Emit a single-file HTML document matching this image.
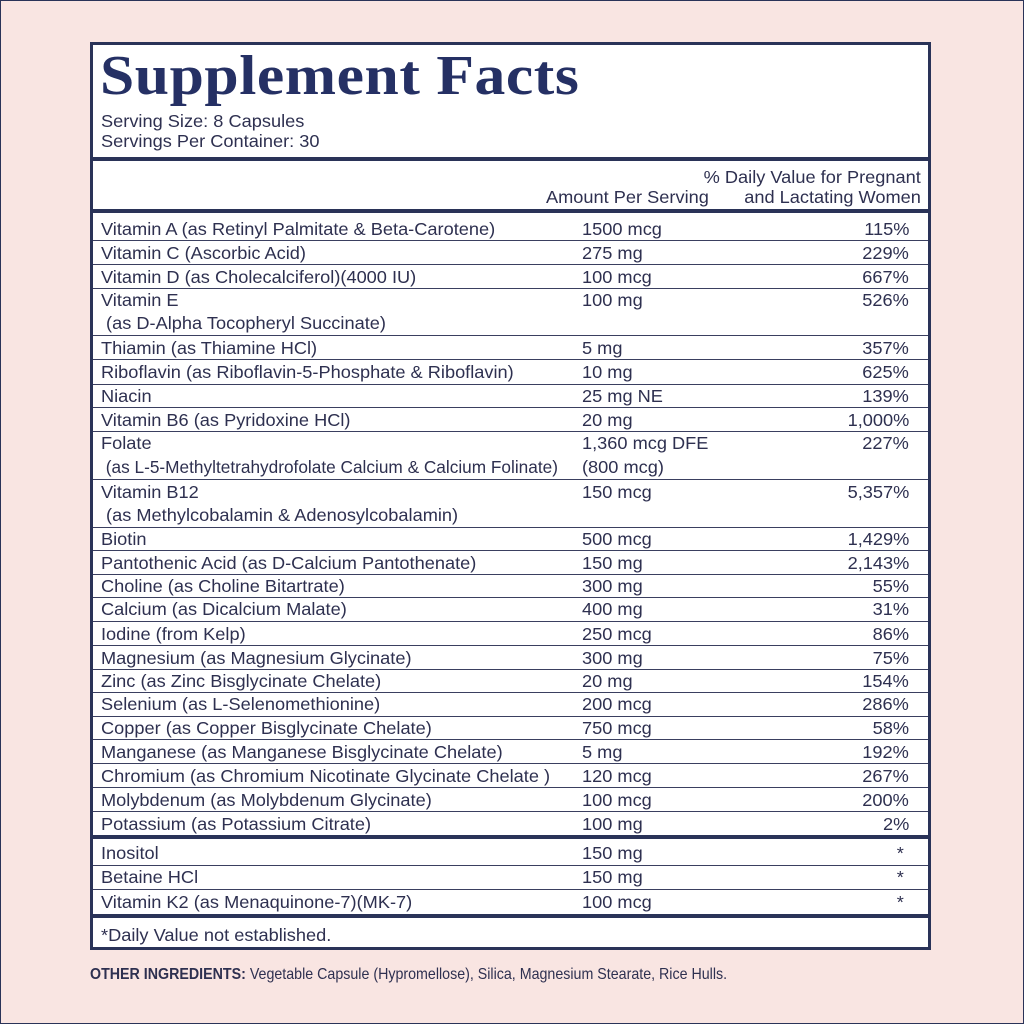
<!DOCTYPE html>
<html><head><meta charset="utf-8"><style>
body{margin:0;width:1024px;height:1024px;background:#f9e5e2;position:relative;overflow:hidden;font-family:"Liberation Sans",sans-serif;color:#2b3157}
.frame{position:absolute;left:0;top:0;width:1022px;height:1022px;border:1px solid #2a3358}
.box{position:absolute;left:90px;top:42px;width:835px;height:902px;border:3px solid #2a3358;background:#fff}
.t{position:absolute;font-size:17.5px;line-height:20px;white-space:nowrap;color:#2e3050;transform:scaleX(1.04);transform-origin:left}
.r{text-align:right;transform-origin:right}
.l{position:absolute;left:93px;width:835px;height:1px;background:#3a3f60}
.th{position:absolute;left:93px;width:835px;height:4px;background:#2a3358}
h1{position:absolute;left:100px;top:44px;margin:0;font-family:"Liberation Serif",serif;font-weight:bold;font-size:56px;color:#253064;letter-spacing:0.5px;transform:scaleX(1.1);transform-origin:left}
</style></head><body>
<div class="frame"></div>
<div class="box"></div>
<h1>Supplement Facts</h1>
<div class="t" style="left:101px;top:111px">Serving Size: 8 Capsules</div>
<div class="t" style="left:101px;top:131px">Servings Per Container: 30</div>
<div class="th" style="top:157px"></div>
<div class="t" style="left:546px;top:187px">Amount Per Serving</div>
<div class="t r" style="right:103px;top:167px">% Daily Value for Pregnant</div>
<div class="t r" style="right:103px;top:187px">and Lactating Women</div>
<div class="th" style="top:209px"></div>

<div class="t" style="left:101px;top:219px">Vitamin A (as Retinyl Palmitate &amp; Beta-Carotene)</div><div class="t" style="left:582px;top:219px">1500 mcg</div><div class="t r" style="right:115px;top:219px">115%</div><div class="l" style="top:240px"></div>
<div class="t" style="left:101px;top:243px">Vitamin C (Ascorbic Acid)</div><div class="t" style="left:582px;top:243px">275 mg</div><div class="t r" style="right:115px;top:243px">229%</div><div class="l" style="top:264px"></div>
<div class="t" style="left:101px;top:267px">Vitamin D (as Cholecalciferol)(4000 IU)</div><div class="t" style="left:582px;top:267px">100 mcg</div><div class="t r" style="right:115px;top:267px">667%</div><div class="l" style="top:288px"></div>
<div class="t" style="left:101px;top:290px">Vitamin E</div><div class="t" style="left:101px;top:313px">&nbsp;(as D-Alpha Tocopheryl Succinate)</div><div class="t" style="left:582px;top:290px">100 mg</div><div class="t r" style="right:115px;top:290px">526%</div><div class="l" style="top:335px"></div>
<div class="t" style="left:101px;top:338px">Thiamin (as Thiamine HCl)</div><div class="t" style="left:582px;top:338px">5 mg</div><div class="t r" style="right:115px;top:338px">357%</div><div class="l" style="top:359px"></div>
<div class="t" style="left:101px;top:362px">Riboflavin (as Riboflavin-5-Phosphate &amp; Riboflavin)</div><div class="t" style="left:582px;top:362px">10 mg</div><div class="t r" style="right:115px;top:362px">625%</div><div class="l" style="top:384px"></div>
<div class="t" style="left:101px;top:386px">Niacin</div><div class="t" style="left:582px;top:386px">25 mg NE</div><div class="t r" style="right:115px;top:386px">139%</div><div class="l" style="top:407px"></div>
<div class="t" style="left:101px;top:410px">Vitamin B6 (as Pyridoxine HCl)</div><div class="t" style="left:582px;top:410px">20 mg</div><div class="t r" style="right:115px;top:410px">1,000%</div><div class="l" style="top:431px"></div>
<div class="t" style="left:101px;top:433px">Folate</div><div class="t" style="left:101px;top:457px;transform:scaleX(0.985)">&nbsp;(as L-5-Methyltetrahydrofolate Calcium &amp; Calcium Folinate)</div><div class="t" style="left:582px;top:433px">1,360 mcg DFE</div><div class="t" style="left:582px;top:457px">(800 mcg)</div><div class="t r" style="right:115px;top:433px">227%</div><div class="l" style="top:479px"></div>
<div class="t" style="left:101px;top:482px">Vitamin B12</div><div class="t" style="left:101px;top:505px">&nbsp;(as Methylcobalamin &amp; Adenosylcobalamin)</div><div class="t" style="left:582px;top:482px">150 mcg</div><div class="t r" style="right:115px;top:482px">5,357%</div><div class="l" style="top:527px"></div>
<div class="t" style="left:101px;top:529px">Biotin</div><div class="t" style="left:582px;top:529px">500 mcg</div><div class="t r" style="right:115px;top:529px">1,429%</div><div class="l" style="top:550px"></div>
<div class="t" style="left:101px;top:553px">Pantothenic Acid (as D-Calcium Pantothenate)</div><div class="t" style="left:582px;top:553px">150 mg</div><div class="t r" style="right:115px;top:553px">2,143%</div><div class="l" style="top:574px"></div>
<div class="t" style="left:101px;top:576px">Choline (as Choline Bitartrate)</div><div class="t" style="left:582px;top:576px">300 mg</div><div class="t r" style="right:115px;top:576px">55%</div><div class="l" style="top:597px"></div>
<div class="t" style="left:101px;top:599px">Calcium (as Dicalcium Malate)</div><div class="t" style="left:582px;top:599px">400 mg</div><div class="t r" style="right:115px;top:599px">31%</div><div class="l" style="top:621px"></div>
<div class="t" style="left:101px;top:624px">Iodine (from Kelp)</div><div class="t" style="left:582px;top:624px">250 mcg</div><div class="t r" style="right:115px;top:624px">86%</div><div class="l" style="top:645px"></div>
<div class="t" style="left:101px;top:648px">Magnesium (as Magnesium Glycinate)</div><div class="t" style="left:582px;top:648px">300 mg</div><div class="t r" style="right:115px;top:648px">75%</div><div class="l" style="top:669px"></div>
<div class="t" style="left:101px;top:671px">Zinc (as Zinc Bisglycinate Chelate)</div><div class="t" style="left:582px;top:671px">20 mg</div><div class="t r" style="right:115px;top:671px">154%</div><div class="l" style="top:692px"></div>
<div class="t" style="left:101px;top:694px">Selenium (as L-Selenomethionine)</div><div class="t" style="left:582px;top:694px">200 mcg</div><div class="t r" style="right:115px;top:694px">286%</div><div class="l" style="top:716px"></div>
<div class="t" style="left:101px;top:718px">Copper (as Copper Bisglycinate Chelate)</div><div class="t" style="left:582px;top:718px">750 mcg</div><div class="t r" style="right:115px;top:718px">58%</div><div class="l" style="top:739px"></div>
<div class="t" style="left:101px;top:742px">Manganese (as Manganese Bisglycinate Chelate)</div><div class="t" style="left:582px;top:742px">5 mg</div><div class="t r" style="right:115px;top:742px">192%</div><div class="l" style="top:763px"></div>
<div class="t" style="left:101px;top:766px">Chromium (as Chromium Nicotinate Glycinate Chelate )</div><div class="t" style="left:582px;top:766px">120 mcg</div><div class="t r" style="right:115px;top:766px">267%</div><div class="l" style="top:787px"></div>
<div class="t" style="left:101px;top:790px">Molybdenum (as Molybdenum Glycinate)</div><div class="t" style="left:582px;top:790px">100 mcg</div><div class="t r" style="right:115px;top:790px">200%</div><div class="l" style="top:811px"></div>
<div class="t" style="left:101px;top:814px">Potassium (as Potassium Citrate)</div><div class="t" style="left:582px;top:814px">100 mg</div><div class="t r" style="right:115px;top:814px">2%</div>
<div class="th" style="top:835px"></div>
<div class="t" style="left:101px;top:843px">Inositol</div><div class="t" style="left:582px;top:843px">150 mg</div><div class="t r" style="right:120px;top:843px">*</div><div class="l" style="top:865px"></div>
<div class="t" style="left:101px;top:867px">Betaine HCl</div><div class="t" style="left:582px;top:867px">150 mg</div><div class="t r" style="right:120px;top:867px">*</div><div class="l" style="top:889px"></div>
<div class="t" style="left:101px;top:892px">Vitamin K2 (as Menaquinone-7)(MK-7)</div><div class="t" style="left:582px;top:892px">100 mcg</div><div class="t r" style="right:120px;top:892px">*</div>
<div class="th" style="top:914px"></div>
<div class="t" style="left:101px;top:925px">*Daily Value not established.</div>
<div class="t" style="left:90px;top:965px;font-size:16px;transform:scaleX(0.89);transform-origin:left"><b>OTHER INGREDIENTS:</b> Vegetable Capsule (Hypromellose), Silica, Magnesium Stearate, Rice Hulls.</div>
</body></html>
